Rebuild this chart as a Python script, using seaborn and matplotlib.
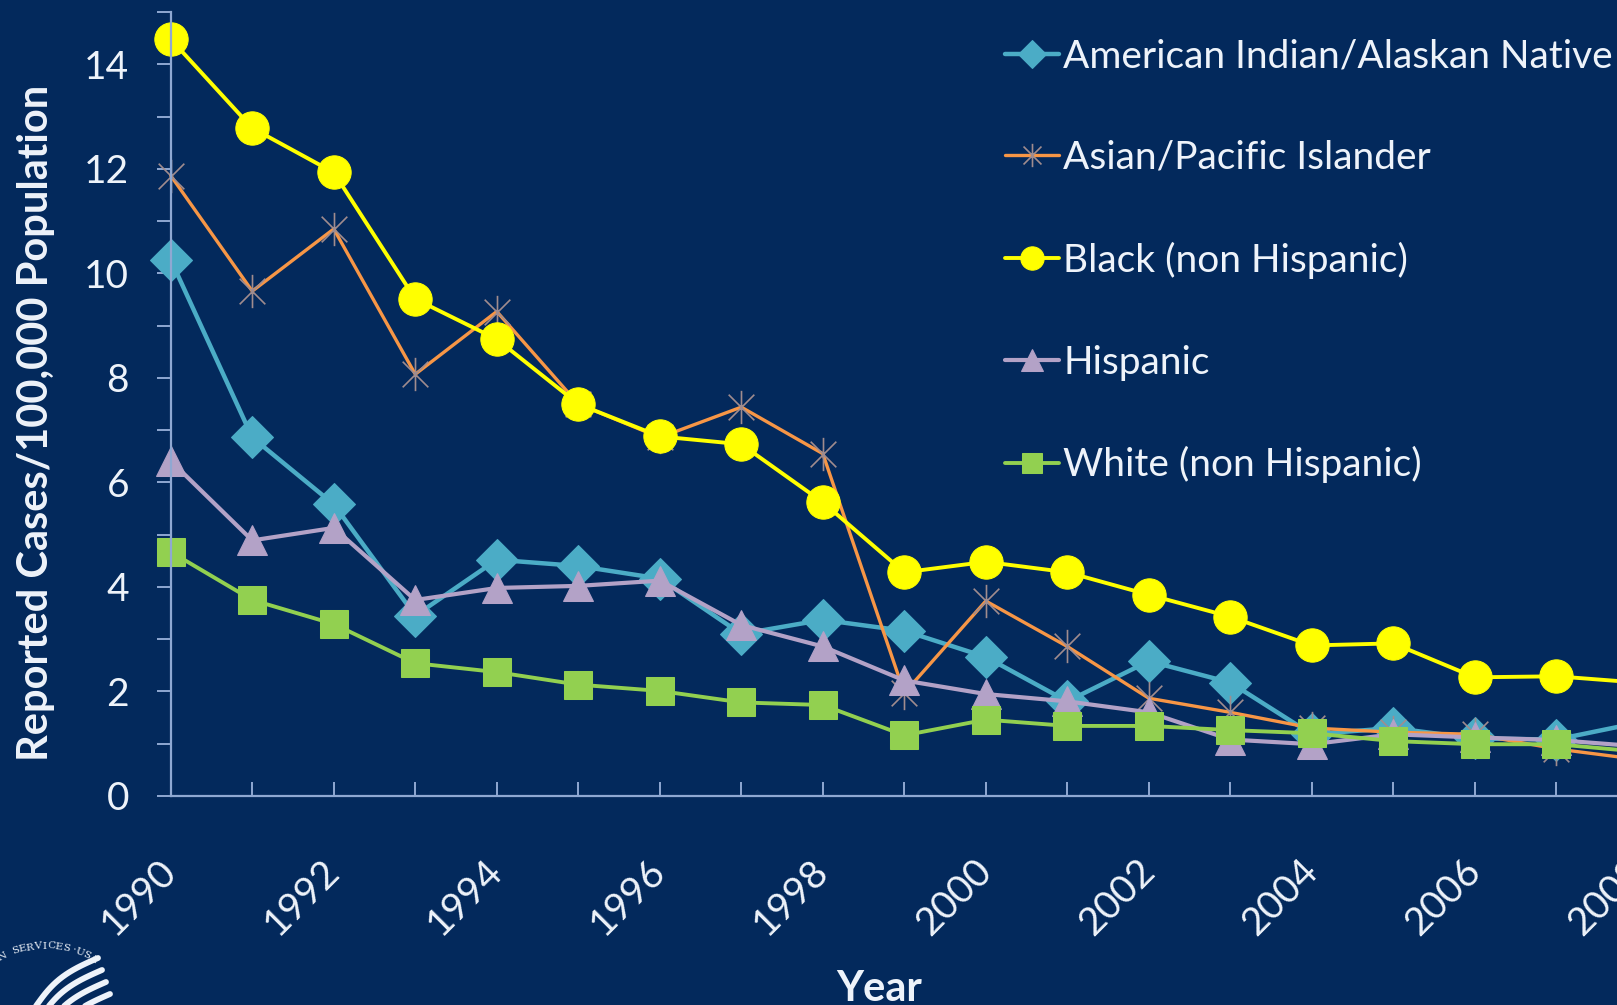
import matplotlib
matplotlib.use("Agg")
import matplotlib.pyplot as plt
from matplotlib.path import Path
from matplotlib.lines import Line2D
from matplotlib.ticker import MultipleLocator
import numpy as np
import pandas as pd
import seaborn as sns

# ---------------------------------------------------------------------------
# Data (rate per 100,000 population)
# ---------------------------------------------------------------------------
years = list(range(1990, 2009))

american_indian = [10.26, 6.86, 5.58, 3.45, 4.52, 4.40, 4.16, 3.10, 3.37, 3.16,
                   2.66, 1.81, 2.58, 2.17, 1.18, 1.30, 1.10, 1.08, 1.40]
asian_pacific = [11.87, 9.66, 10.85, 8.07, 9.27, 7.50, 6.86, 7.44, 6.55, 1.97,
                 3.73, 2.86, 1.87, 1.60, 1.30, 1.22, 1.18, 0.90, 0.70]
black = [14.48, 12.78, 11.93, 9.51, 8.74, 7.50, 6.88, 6.73, 5.62, 4.28,
         4.48, 4.28, 3.85, 3.43, 2.88, 2.92, 2.27, 2.29, 2.17]
hispanic = [6.41, 4.89, 5.13, 3.75, 3.98, 4.02, 4.12, 3.27, 2.86, 2.21,
            1.95, 1.81, 1.60, 1.08, 0.99, 1.18, 1.12, 1.07, 0.95]
white = [4.67, 3.75, 3.29, 2.54, 2.37, 2.13, 2.01, 1.79, 1.74, 1.16,
         1.46, 1.34, 1.34, 1.26, 1.20, 1.05, 0.99, 0.99, 0.85]

series_names = ["American Indian/Alaskan Native", "Asian/Pacific Islander",
                "Black (non Hispanic)", "Hispanic", "White (non Hispanic)"]
series_values = [american_indian, asian_pacific, black, hispanic, white]

# ---------------------------------------------------------------------------
# Styling
# ---------------------------------------------------------------------------
BG = "#03295C"
TEXT = "#EEF3FA"
AXIS = "#8FA8D2"

# Excel-like "star" marker: an X with a vertical bar through it
star = Path([(-1, -1), (1, 1), (-1, 1), (1, -1), (0, -1.3), (0, 1.3)],
            [Path.MOVETO, Path.LINETO, Path.MOVETO, Path.LINETO, Path.MOVETO, Path.LINETO])

styles = {
    "American Indian/Alaskan Native": dict(color="#4BACC6", marker="D", markersize=21,
                                           mfc="#4BACC6", mec="#4BACC6", lw=3.2),
    "Asian/Pacific Islander": dict(color="#F79646", marker=star, markersize=24,
                                   mfc="none", mec="#A08C8E", mew=1.2, lw=2.4),
    "Black (non Hispanic)": dict(color="#FFFF00", marker="o", markersize=24,
                                 mfc="#FFFF00", mec="#FFFF00", lw=2.8),
    "Hispanic": dict(color="#B3A2C7", marker="^", markersize=22,
                     mfc="#B3A2C7", mec="#B3A2C7", lw=3.0),
    "White (non Hispanic)": dict(color="#92D050", marker="s", markersize=20,
                                 mfc="#92D050", mec="#92D050", lw=2.8),
}

sns.set_theme(style="ticks")
plt.rcParams["font.family"] = ["Lato", "DejaVu Sans"]
plt.rcParams["axes.facecolor"] = BG
plt.rcParams["figure.facecolor"] = BG

df = pd.DataFrame({
    "year": np.tile(years, len(series_names)),
    "group": np.repeat(series_names, len(years)),
    "rate": np.concatenate(series_values),
})

fig = plt.figure(figsize=(16.17, 10.05), dpi=100)
ax = fig.add_axes([0.1056, 0.208, 0.9577, 0.780])
ax.set_facecolor(BG)

for name in series_names:
    sub = df[df["group"] == name]
    sns.lineplot(data=sub, x="year", y="rate", ax=ax, label=name,
                 clip_on=False, **styles[name])

ax.set_xlim(1990, 2009)
ax.set_ylim(0, 15)

# axes look
for side in ["top", "right"]:
    ax.spines[side].set_visible(False)
for side in ["left", "bottom"]:
    ax.spines[side].set_color(AXIS)
    ax.spines[side].set_linewidth(1.6)

ax.yaxis.set_major_locator(MultipleLocator(2))
ax.yaxis.set_minor_locator(MultipleLocator(1))
ax.xaxis.set_major_locator(MultipleLocator(2))
ax.xaxis.set_minor_locator(MultipleLocator(1))

ax.tick_params(axis="y", which="both", direction="out", length=10, width=1.4,
               color=AXIS, labelcolor=TEXT, labelsize=28, pad=20)
ax.tick_params(axis="x", which="both", direction="in", length=10, width=1.4,
               color=AXIS, labelcolor=TEXT, labelsize=28, pad=50)
ax.set_xticks(range(1990, 2010, 2))
ax.set_xticklabels([str(y) for y in range(1990, 2010, 2)], rotation=45,
                   ha="right", va="center", rotation_mode="anchor")
ax.grid(False)
ax.set_xlabel("")
ax.set_ylabel("")

fig.text(0.0223, 0.579, "Reported Cases/100,000 Population", rotation=90,
         ha="center", va="center", fontsize=30, fontweight="bold", color=TEXT)
fig.text(0.5436, 0.035, "Year", ha="center", va="top",
         fontsize=30, fontweight="bold", color=TEXT)

handles, labels = ax.get_legend_handles_labels()
leg = ax.legend(handles, labels, loc="upper left",
                bbox_to_anchor=(0.6215, 0.962), bbox_transform=fig.transFigure,
                frameon=False, fontsize=28, labelcolor=TEXT, markerscale=0.7,
                handlelength=1.4, handletextpad=0.1, labelspacing=1.69,
                borderpad=0, borderaxespad=0)

# partial HHS seal in the lower left corner (decoration)
W, H = 1617, 1005
cx, cy, r = 46, 1040, 94
arc_text = "AN SERVICES·USA"
angles = np.linspace(122, 60, len(arc_text))
for ch, a in zip(arc_text, angles):
    t = np.deg2rad(a)
    px, py = cx + r * np.cos(t), cy - r * np.sin(t)
    fig.text(px / W, 1 - py / H, ch, fontsize=7.5, color=TEXT, family="DejaVu Serif",
             rotation=a - 90, ha="center", va="center")
for k in range(4):
    s = np.linspace(0, 1, 20)
    x0, y0 = 98 + 4 * k, 958 + 12 * k
    xs = x0 - 62 * s - 6 * np.sin(np.pi * s)
    ys = y0 + 48 * s - 4 * np.sin(np.pi * s)
    fig.add_artist(Line2D(xs / W, 1 - ys / H, color=TEXT, lw=4.2,
                          transform=fig.transFigure, solid_capstyle="round"))

fig.savefig("out.png", dpi=100, facecolor=BG)
